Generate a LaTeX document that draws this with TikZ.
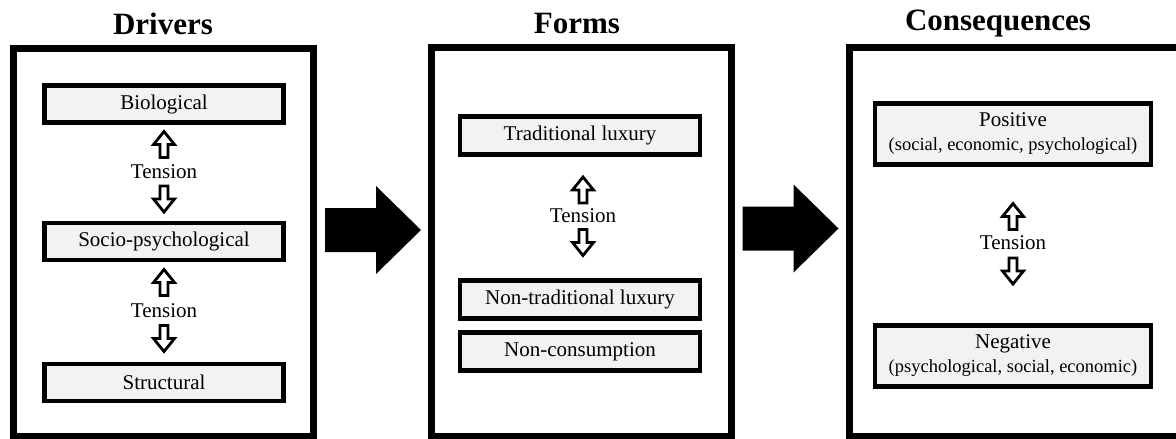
\documentclass[tikz,border=0pt]{standalone}
\usepackage{fontspec}
\setmainfont{Liberation Serif}
\definecolor{boxgray}{HTML}{F2F2F2}
\newcommand{\sublabel}[1]{{\fontsize{18.5}{24}\selectfont #1}}
\tikzset{
  panel/.style={line width=7pt},
  itembox/.style={draw, line width=4.5pt, fill=boxgray, inner sep=0pt, align=center,
    font=\fontsize{21}{24}\selectfont},
  heading/.style={font=\fontsize{31}{36}\selectfont\bfseries},
  tensionlabel/.style={font=\fontsize{21}{24}\selectfont, inner sep=1pt},
  hollow arrow/.pic={\draw[line width=2.8pt, fill=white]
    (0,-13) -- (10.5,0) -- (4,0) -- (4,13) -- (-4,13) -- (-4,0) -- (-10.5,0) -- cycle;},
  block arrow/.pic={\fill
    (48,0) -- (3,-44) -- (3,-22) -- (-48,-22) -- (-48,22) -- (3,22) -- (3,44) -- cycle;}
}
\begin{document}
\begin{tikzpicture}[x=1pt,y=-1pt]
\useasboundingbox (0,0) rectangle (1176,439);
\clip (0,0) rectangle (1176,439);

% Headings
\node[heading] (hdrivers) at (163,24) {Drivers};
\node[heading] (hforms) at (577,24) {Forms};
\node[heading] (hcons) at (998,24) {Consequences};

% Panels
\draw[panel] (13.5,48.5) rectangle (313.5,436);
\draw[panel] (431,47.5) rectangle (731.5,436);
\draw[panel] (849,47.5) rectangle (1185,436);

% Drivers
\node[itembox, minimum width=239pt, minimum height=37pt] (bio) at (164,104) {Biological};
\node[itembox, minimum width=239pt, minimum height=37pt] (socio) at (164,241.5) {Socio-psychological};
\node[itembox, minimum width=239pt, minimum height=37pt] (struct) at (164,382.5) {Structural};
\pic (du1) at (164,144.5) {hollow arrow};
\node[tensionlabel] (dt1) at (164,172) {Tension};
\pic[rotate=180] (dd1) at (164,199) {hollow arrow};
\pic (du2) at (164,282.5) {hollow arrow};
\node[tensionlabel] (dt2) at (164,311) {Tension};
\pic[rotate=180] (dd2) at (164,338.5) {hollow arrow};

% Forms
\node[itembox, minimum width=240pt, minimum height=38pt] (trad) at (580,135.5) {Traditional luxury};
\node[itembox, minimum width=240pt, minimum height=38pt] (nontrad) at (580,299.5) {Non-traditional luxury};
\node[itembox, minimum width=240pt, minimum height=38pt] (noncons) at (580,351.5) {Non-consumption};
\pic (fu) at (583,190) {hollow arrow};
\node[tensionlabel] (ft) at (583,216) {Tension};
\pic[rotate=180] (fd) at (583,242.5) {hollow arrow};

% Consequences
\node[itembox, minimum width=276pt, minimum height=61pt] (pos) at (1013,134)
  {Positive\\\sublabel{(social, economic, psychological)}};
\node[itembox, minimum width=276pt, minimum height=61pt] (neg) at (1013,356)
  {Negative\\\sublabel{(psychological, social, economic)}};
\pic (cu) at (1013,216.5) {hollow arrow};
\node[tensionlabel] (ct) at (1013,243) {Tension};
\pic[rotate=180] (cd) at (1013,271) {hollow arrow};

% Block arrows between panels
\pic (a1) at (373,230) {block arrow};
\pic (a2) at (790.5,228.5) {block arrow};
\end{tikzpicture}
\end{document}
